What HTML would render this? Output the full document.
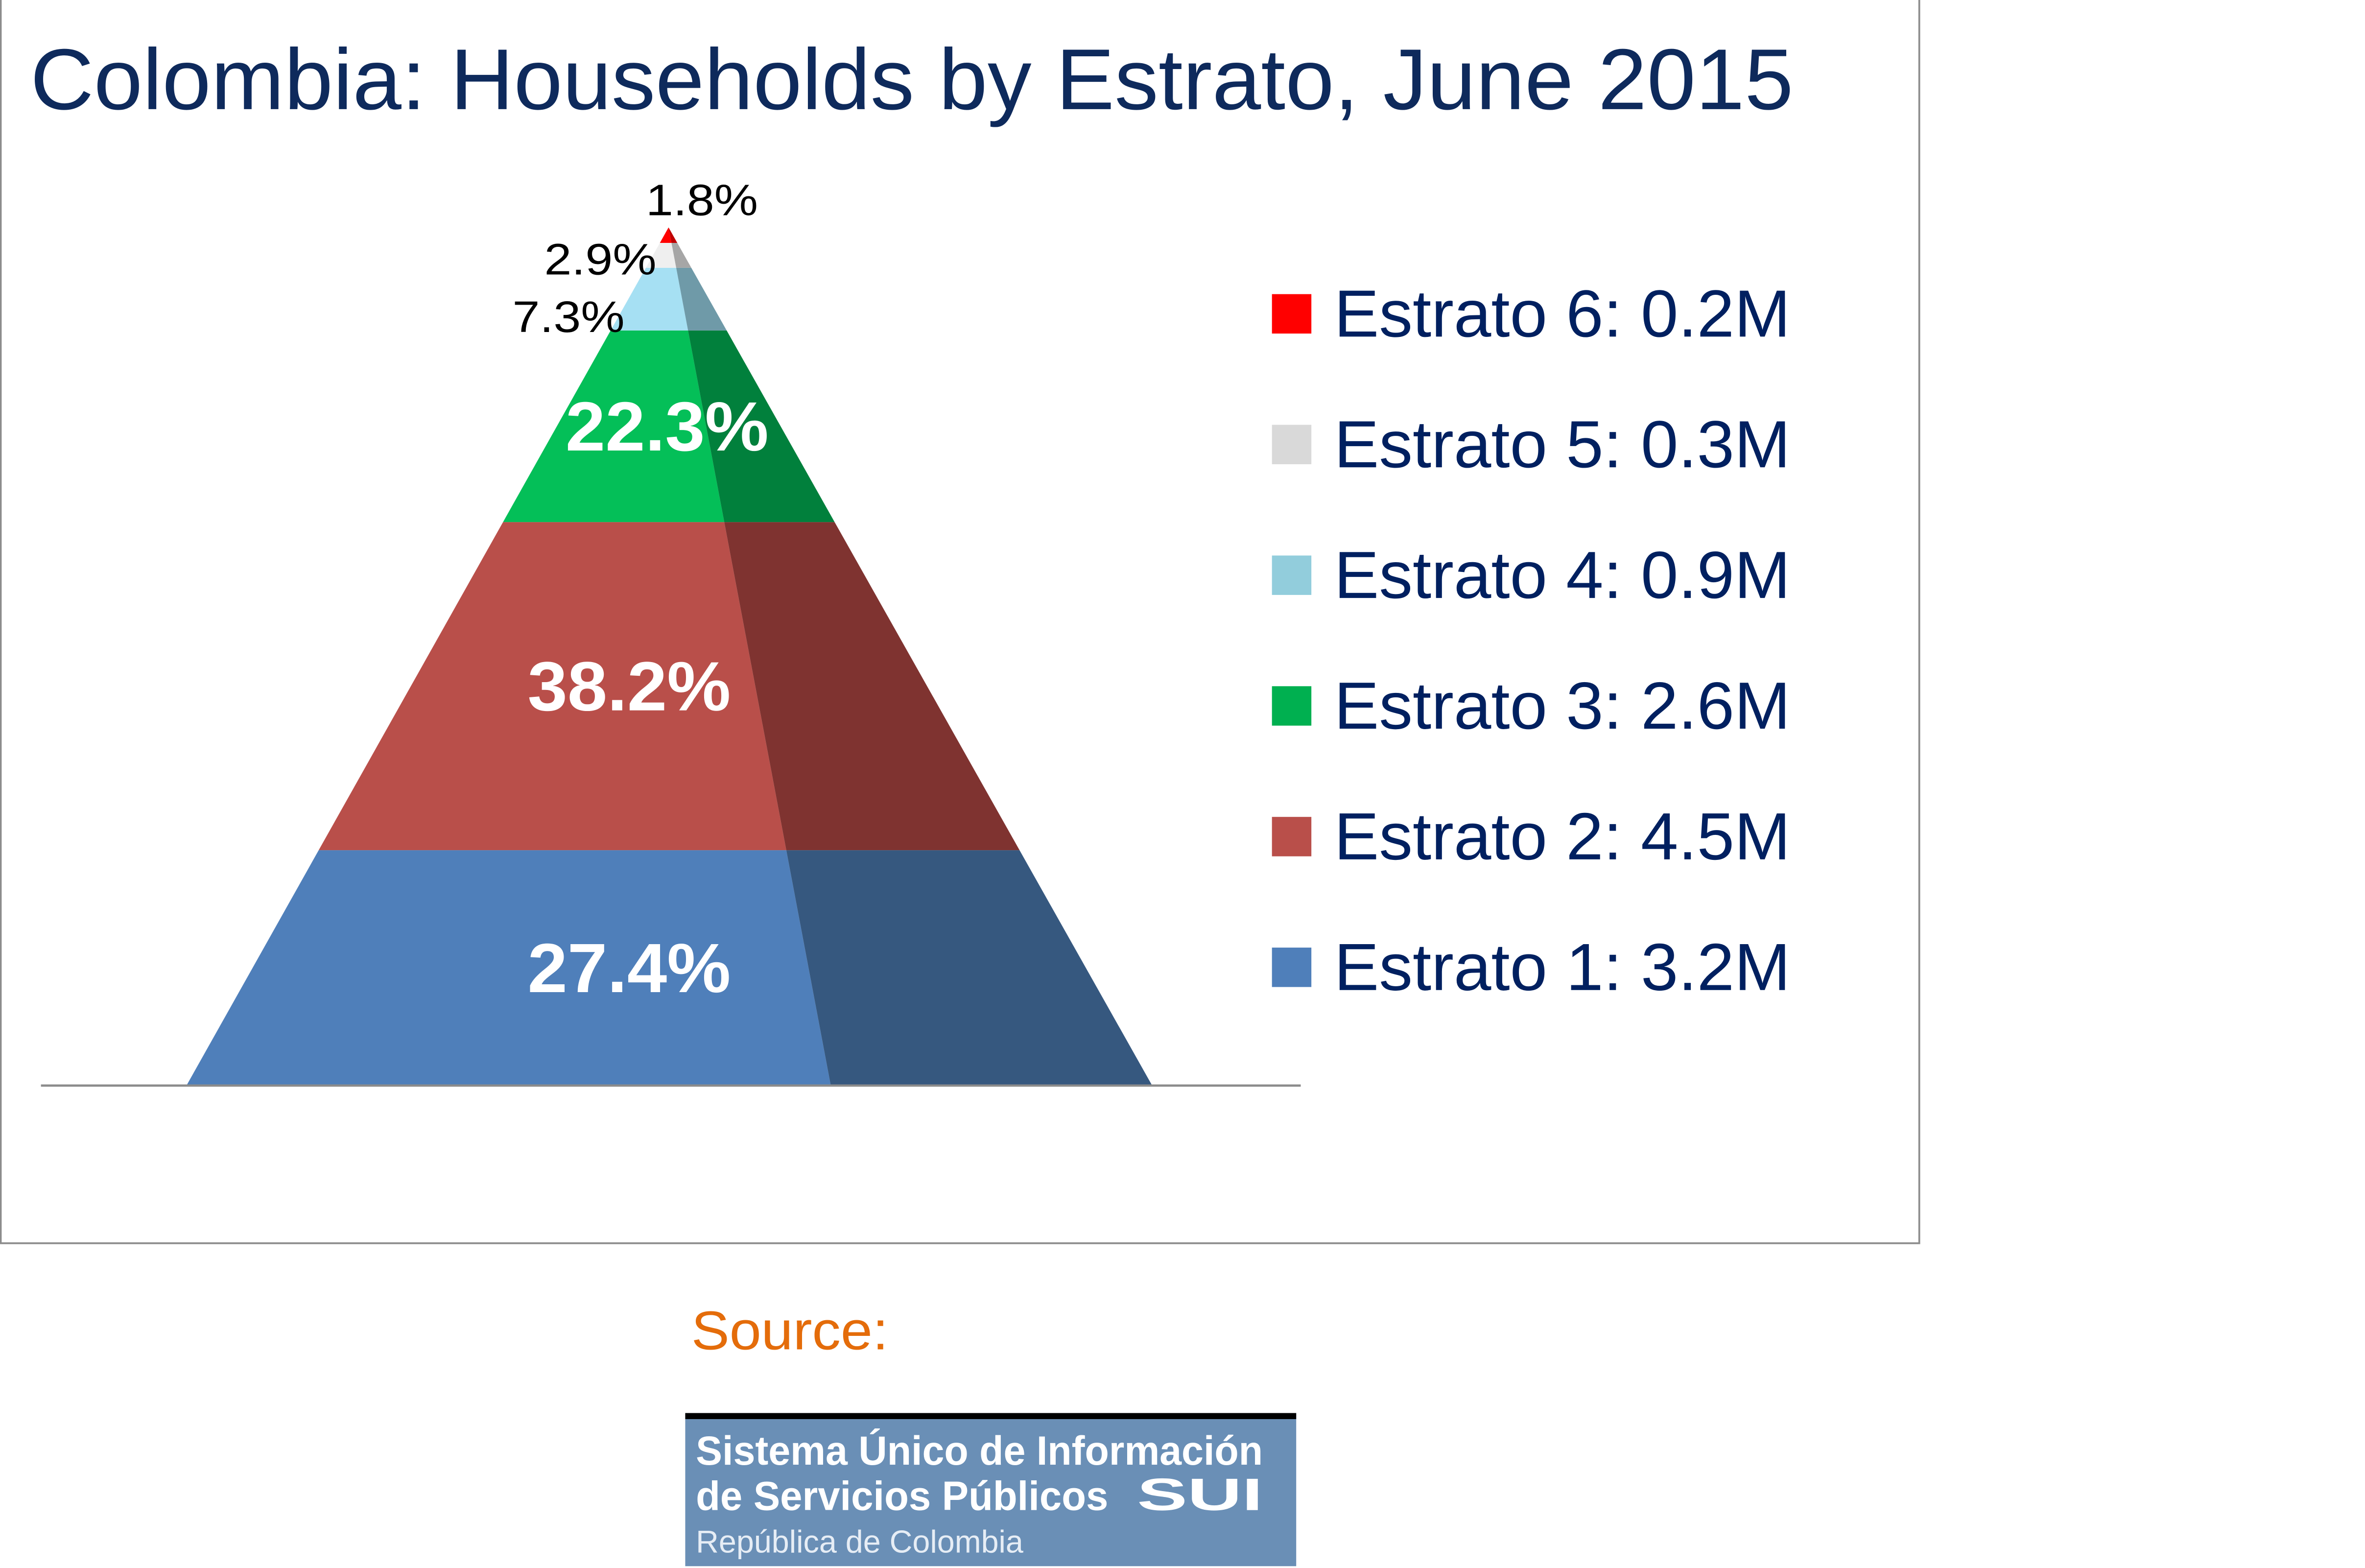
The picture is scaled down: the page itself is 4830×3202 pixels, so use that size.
<!DOCTYPE html>
<html><head><meta charset="utf-8"><style>
html,body{margin:0;padding:0;background:#fff;}
svg{display:block;}
text{font-family:"Liberation Sans",sans-serif;}
</style></head><body>
<svg id="chart" xmlns="http://www.w3.org/2000/svg" width="4830" height="3202" viewBox="0 0 1560 1034.2" preserveAspectRatio="none">
<rect x="0.5" y="-1" width="1265.5" height="821" fill="#fff" stroke="#8c8c8c" stroke-width="1.2"/>
<text x="20" y="72" font-size="57" fill="#0e2a5c" textLength="1163" lengthAdjust="spacingAndGlyphs">Colombia: Households by Estrato, June 2015</text>
<g id="pyr"></g>
<line x1="27" y1="716" x2="858" y2="716" stroke="#8c8c8c" stroke-width="1.5"/>
<g id="legend"></g>
<text x="456" y="890" font-size="36" fill="#e46c0a" textLength="130" lengthAdjust="spacingAndGlyphs">Source:</text>
<g>
<rect x="452" y="932" width="403" height="101" fill="#6a8fb6"/>
<rect x="452" y="932" width="403" height="4" fill="#000"/>
<text x="459" y="966" font-size="27" font-weight="bold" fill="#fff" textLength="374" lengthAdjust="spacingAndGlyphs">Sistema Único de Información</text>
<text x="459" y="996" font-size="27" font-weight="bold" fill="#fff" textLength="272" lengthAdjust="spacingAndGlyphs">de Servicios Públicos</text>
<text x="750" y="996" font-size="30" font-weight="900" fill="#fff" textLength="83" lengthAdjust="spacingAndGlyphs">SUI</text>
<text x="459" y="1024" font-size="21" fill="#e6edf5" textLength="216" lengthAdjust="spacingAndGlyphs">República de Colombia</text>
</g>
</svg>
<script>
const categories = ["Estrato 1","Estrato 2","Estrato 3","Estrato 4","Estrato 5","Estrato 6"];
const percents = [27.4, 38.2, 22.3, 7.3, 2.9, 1.8];
const millions = [3.2, 4.5, 2.6, 0.9, 0.3, 0.2];
const pctLabels = ["27.4%","38.2%","22.3%","7.3%","2.9%","1.8%"];
const legendLabels = ["Estrato 1: 3.2M","Estrato 2: 4.5M","Estrato 3: 2.6M","Estrato 4: 0.9M","Estrato 5: 0.3M","Estrato 6: 0.2M"];

const front = ["#4f7fba","#b94f4a","#04bf58","#a6e0f3","#efefef","#ff0000"];
const side = ["#36587f","#7f3330","#01803c","#6f9aa8","#a6a6a6","#c00000"];
const legendCol = ["#4f7fba","#b94f4a","#00b050","#92cddc","#d9d9d9","#ff0000"];
const NS="http://www.w3.org/2000/svg";
const baseY=716, apexY=150, apexX=441, baseL=123, baseR=760, divB=548;
const total = percents.reduce((a,b)=>a+b,0);
function yScale(cum){ return baseY - cum/total*(baseY-apexY); }
function t(y){ return (baseY-y)/(baseY-apexY); }
function xL(y){ return baseL + (apexX-baseL)*t(y); }
function xR(y){ return baseR + (apexX-baseR)*t(y); }
function xD(y){ return divB + (apexX-divB)*t(y); }
const pyr=document.getElementById('pyr');
let cum=0;
percents.forEach((p,i)=>{
  const y0=yScale(cum), y1=yScale(cum+p); cum+=p;
  const f=document.createElementNS(NS,'polygon');
  f.setAttribute('points',`${xL(y0)},${y0} ${xD(y0)},${y0} ${xD(y1)},${y1} ${xL(y1)},${y1}`);
  f.setAttribute('fill',front[i]);
  
  
  pyr.appendChild(f);
  const s=document.createElementNS(NS,'polygon');
  s.setAttribute('points',`${xD(y0)},${y0} ${xR(y0)},${y0} ${xR(y1)},${y1} ${xD(y1)},${y1}`);
  s.setAttribute('fill',side[i]);
  
  
  pyr.appendChild(s);
  const tx=document.createElementNS(NS,'text');
  if(i<3){
    const cy=(y0+y1)/2;
    tx.setAttribute('x', i==2?440:415);
    tx.setAttribute('y', cy+16);
    tx.setAttribute('text-anchor','middle');
    tx.setAttribute('font-size','46');
    tx.setAttribute('font-weight','bold');
    tx.setAttribute('fill','#fff');
    tx.setAttribute('textLength','134');
    tx.setAttribute('lengthAdjust','spacingAndGlyphs');
  } else {
    tx.setAttribute('x', i==3?412:(i==4?433:500));
    tx.setAttribute('y', i==3?219:(i==4?181:142));
    tx.setAttribute('text-anchor','end');
    tx.setAttribute('font-size','29');
    tx.setAttribute('fill','#000');
    tx.setAttribute('textLength','74');
    tx.setAttribute('lengthAdjust','spacingAndGlyphs');
  }
  tx.textContent=pctLabels[i];
  
  
  pyr.appendChild(tx);
});
const lg=document.getElementById('legend');
for(let k=0;k<6;k++){
  const i=5-k, cy=207+k*86.2;
  const g=document.createElementNS(NS,'g');
  
  
  const r=document.createElementNS(NS,'rect');
  r.setAttribute('x',839); r.setAttribute('y',cy-13); r.setAttribute('width',26); r.setAttribute('height',26);
  r.setAttribute('fill',legendCol[i]);
  
  
  g.appendChild(r);
  const tx=document.createElementNS(NS,'text');
  tx.setAttribute('x',880); tx.setAttribute('y',cy+15);
  tx.setAttribute('font-size','44'); tx.setAttribute('fill','#002060');
  tx.setAttribute('textLength','301'); tx.setAttribute('lengthAdjust','spacingAndGlyphs');
  tx.textContent=legendLabels[i];
  
  
  g.appendChild(tx);
  lg.appendChild(g);
}
</script>
</body></html>
